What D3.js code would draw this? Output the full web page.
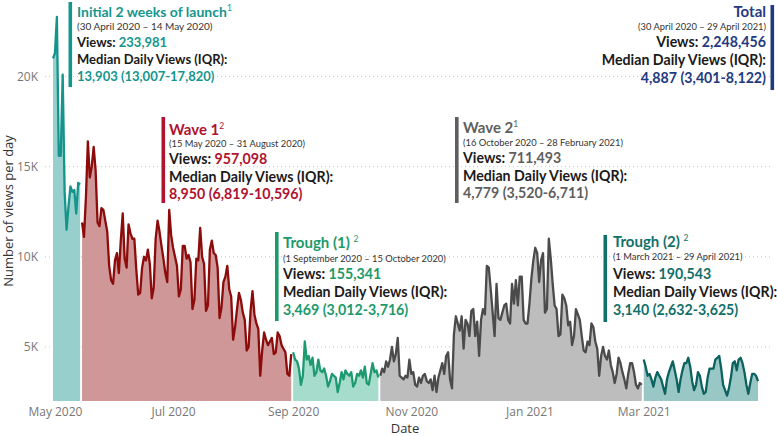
<!DOCTYPE html>
<html>
<head>
<meta charset="utf-8">
<script src="https://cdn.jsdelivr.net/npm/d3@7"></script>
<style>
  body { margin: 0; background: #fff; }
  svg text { font-family: "Open Sans", sans-serif; }
  .note text { font-family: Lato, sans-serif; }
</style>
</head>
<body>
<svg id="chart" width="777" height="436"></svg>
<script>
// daily views, one value per day starting at each period's first date
var launchStart = "2020-04-30";
var launchViews = [21000, 21300, 23300, 15600, 15600, 20100, 13600, 11500, 12800, 13900, 13600, 13700, 12400, 14100, 14000];

var wave1Start = "2020-05-15";
var wave1Views = [11900, 11100, 13300, 16400, 14400, 15000, 16100, 14800,
  11900, 11700, 12700, 12600, 12000, 11400, 9500,
  8700, 8500, 9800, 10200, 9100, 10900, 12400,
  9900, 9400, 11800, 11300, 11000, 11000, 9300,
  7900, 8000, 9400, 10000, 9800, 10400, 9600,
  7700, 8300, 11000, 12000, 11400, 10600, 9900,
  9100, 8600, 12600, 11200, 10500, 10000, 9500,
  7800, 8200, 10600, 10600, 9900, 10100, 9700,
  7100, 7600, 9900, 9800, 11600, 10000, 9600,
  7000, 7300, 10400, 10900, 10200, 10100, 9400,
  6600, 7200, 8600, 8900, 9500, 8200, 7800,
  5400, 6100, 7100, 8000, 7600, 6900, 6500,
  4800, 5000, 7000, 8100, 6800, 6300, 6000,
  3400, 4800, 5800, 5400, 5100, 5300, 5500,
  4600, 4700, 5800, 5600, 5100, 4900, 4700,
  3500, 3400, 4600];

var trough1Start = "2020-09-01";
var trough1Views = [4700, 4300, 4200, 3800, 2900, 3400, 5300, 4300, 4500, 4000,
  4400, 3400, 3600, 4300, 3700, 3600, 3800, 3400, 2800, 3100,
  3500, 3400, 3300, 2500, 3000, 3600, 3200, 3700, 3500, 3400,
  3600, 2800, 3000, 3500, 3400, 3700, 3300, 3900, 3000, 2900,
  3500, 4100, 3600, 3700, 3300];

var wave2Start = "2020-10-16";
var wave2Views = [3400, 3800, 3600, 4200, 3900, 4300, 5000, 4200, 4600, 5500,
  3400, 3300, 3200, 3400, 3300, 4300, 3500, 3600, 2900, 2800,
  3300, 3000, 3400, 3500, 3100, 3000, 3200, 2600, 3400, 2500,
  3300, 3700, 4100, 3500, 4500, 4700, 3200, 2700, 5700, 6700,
  6300, 5900, 6700, 4900, 6500, 6300, 5600, 7000, 7100, 5600,
  6400, 4500, 6500, 7100, 6800, 9500, 9400, 8200, 6900, 5600,
  8500, 6600, 6500, 6900, 7300, 7400, 6500, 6300, 8500, 7400,
  8700, 7300, 8900, 8900, 6500, 6300, 6300, 7400, 8800, 9800,
  10500, 10200, 8600, 9800, 10200, 6900, 7100, 11000, 9900, 8500,
  7300, 7100, 5600, 5700, 7900, 7700, 7300, 6200, 6400, 5100,
  5600, 7100, 6800, 6500, 5600, 4800, 4700, 5300, 5100, 6300,
  6100, 5300, 4900, 3400, 4500, 5000, 4500, 4300, 4800, 4000,
  3600, 3000, 3500, 4400, 4100, 3600, 3200, 2700, 3500, 4100,
  4100, 3600, 2900, 2700, 3000, 2900];

var trough2Start = "2021-03-01";
var trough2Views = [4300, 3900, 3400, 3500, 3200, 2800, 3300, 3600, 3400, 3200,
  2800, 2400, 3200, 3600, 3900, 4200, 3700, 3200, 2500, 3200,
  3700, 4100, 4100, 4400, 3900, 3100, 2600, 2900, 3600, 3400,
  2800, 2400, 2500, 3300, 3800, 3800, 3800, 4300, 4400, 4500,
  3800, 2900, 2600, 2300, 2700, 3300, 4100, 4200, 3700, 4300,
  4400, 4100, 3600, 2900, 2400, 3000, 3500, 3500, 3400, 3100];

var yTicks = [5000, 10000, 15000, 20000];

// annotation texts
var noteTitles = ["Initial 2 weeks of launch", "Wave 1", "Trough (1) ", "Wave 2", "Trough (2) ", "Total"];
var noteSups = ["1", "2", "2", "1", "2", ""];
var noteDates = ["(30 April 2020 \u2013 14 May 2020)", "(15 May 2020 \u2013 31 August 2020)",
  "(1 September 2020 \u2013 15 October 2020)", "(16 October 2020 \u2013 28 February 2021)",
  "(1 March 2021 \u2013 29 April 2021)", "(30 April 2020 \u2013 29 April 2021)"];
var noteViews = ["233,981", "957,098", "155,341", "711,493", "190,543", "2,248,456"];
var noteMedians = ["13,903 (13,007-17,820)", "8,950 (6,819-10,596)", "3,469 (3,012-3,716)",
  "4,779 (3,520-6,711)", "3,140 (2,632-3,625)", "4,887 (3,401-8,122)"];

var parseDay = d3.timeParse("%Y-%m-%d");

function toPoints(start, vals) {
  var t0 = parseDay(start);
  return vals.map(function (v, i) { return { date: d3.timeDay.offset(t0, i), views: v }; });
}

var segments = [
  { data: toPoints(launchStart, launchViews), line: "#14948b", fill: "#97cfcd" },
  { data: toPoints(wave1Start, wave1Views), line: "#8c0b0b", fill: "#cf9797" },
  { data: toPoints(trough1Start, trough1Views), line: "#1d9a6f", fill: "#a6dccb" },
  { data: toPoints(wave2Start, wave2Views), line: "#4b4b4b", fill: "#bdbdbd" },
  { data: toPoints(trough2Start, trough2Views), line: "#0c625e", fill: "#99c7c5" }
];

var svg = d3.select("#chart");

var x = d3.scaleTime()
  .domain([parseDay("2020-04-30"), parseDay("2021-04-29")])
  .range([53, 758]);
var y = d3.scaleLinear().domain([2000, 20000]).range([401, 76.5]);

// gridlines
svg.append("g").selectAll("line")
  .data(yTicks)
  .enter().append("line")
  .attr("x1", 45).attr("x2", 770)
  .attr("y1", function (d) { return y(d); })
  .attr("y2", function (d) { return y(d); })
  .attr("stroke", "#c8c8c8")
  .attr("stroke-dasharray", "1,3");

// areas + lines
var area = d3.area()
  .x(function (d) { return x(d.date); })
  .y0(y(2000))
  .y1(function (d) { return y(d.views); });
var line = d3.line()
  .x(function (d) { return x(d.date); })
  .y(function (d) { return y(d.views); });

segments.forEach(function (s) {
  svg.append("path").datum(s.data).attr("d", area).attr("fill", s.fill);
  svg.append("path").datum(s.data).attr("d", line)
    .attr("fill", "none").attr("stroke", s.line)
    .attr("stroke-width", 2.3).attr("stroke-linejoin", "round");
});

// axes
var xAxis = svg.append("g")
  .attr("transform", "translate(0,401)")
  .call(d3.axisBottom(x).ticks(d3.timeMonth.every(2)).tickFormat(d3.timeFormat("%b %Y")).tickSize(0).tickPadding(6));
var yAxis = svg.append("g")
  .attr("transform", "translate(45,0)")
  .call(d3.axisLeft(y).tickValues(yTicks).tickFormat(function (d) { return d / 1000 + "K"; }).tickSize(0).tickPadding(7));
[xAxis, yAxis].forEach(function (a) {
  a.select(".domain").remove();
  a.selectAll("text").attr("fill", "#777").attr("font-size", 12).attr("font-family", "Open Sans, sans-serif");
});

svg.append("text")
  .attr("transform", "translate(13,211) rotate(-90)")
  .attr("text-anchor", "middle")
  .attr("font-size", 13).attr("fill", "#333")
  .text("Number of views per day");
svg.append("text")
  .attr("x", 405).attr("y", 433)
  .attr("text-anchor", "middle")
  .attr("font-size", 13).attr("fill", "#333")
  .text("Date");

// annotation boxes
var noteColors = ["#15968d", "#b0122f", "#1c9a6b", "#5f5f5f", "#117069", "#1f3a80"];
var noteLayout = [
  { x: 77, bar: 68.5, y0: 2, y1: 87, ys: [17, 30, 47, 64, 81], ts: 14, bs: 13, ds: 10 },
  { x: 169, bar: 161.5, y0: 117, y1: 203, ys: [135, 147, 164, 181.5, 199], ts: 15, bs: 14.2, ds: 9.35 },
  { x: 283, bar: 275, y0: 232, y1: 321, ys: [248, 261.5, 278.5, 296.5, 314.5], ts: 15, bs: 14.2, ds: 9.35 },
  { x: 463, bar: 455, y0: 117, y1: 203, ys: [133, 146, 162.5, 180.5, 198], ts: 15, bs: 14.2, ds: 9.35 },
  { x: 613, bar: 603.5, y0: 235, y1: 322, ys: [247, 260, 278.5, 296.5, 314.5], ts: 15, bs: 14.2, ds: 9.35 },
  { x: 766, bar: 770.5, y0: 5, y1: 90, ys: [17, 30, 47, 65, 83], ts: 15, bs: 14.2, ds: 9.35, end: true }
];

noteTitles.forEach(function (title, i) {
  var L = noteLayout[i], c = noteColors[i];
  var g = svg.append("g").attr("class", "note");
  var anchor = L.end ? "end" : "start";
  g.append("rect").attr("x", L.bar).attr("y", L.y0)
    .attr("width", 3.6).attr("height", L.y1 - L.y0).attr("fill", c);

  var t = g.append("text").attr("x", L.x).attr("y", L.ys[0]).attr("text-anchor", anchor)
    .attr("font-size", L.ts).attr("font-weight", 700).attr("fill", c);
  t.append("tspan").text(title);
  if (noteSups[i]) t.append("tspan").attr("font-size", 8.5).attr("font-weight", 400).attr("dy", -6).text(noteSups[i]);

  g.append("text").attr("x", L.x).attr("y", L.ys[1]).attr("text-anchor", anchor)
    .attr("font-size", L.ds).attr("fill", "#333").text(noteDates[i]);

  var v = g.append("text").attr("x", L.x).attr("y", L.ys[2]).attr("text-anchor", anchor)
    .attr("font-size", L.bs).attr("font-weight", 700).attr("fill", "#1a1a1a");
  v.append("tspan").text("Views: ");
  v.append("tspan").attr("fill", c).text(noteViews[i]);

  g.append("text").attr("x", L.x).attr("y", L.ys[3]).attr("text-anchor", anchor)
    .attr("font-size", L.bs).attr("font-weight", 700).attr("fill", "#1a1a1a")
    .text("Median Daily Views (IQR):");
  g.append("text").attr("x", L.x).attr("y", L.ys[4]).attr("text-anchor", anchor)
    .attr("font-size", L.bs).attr("font-weight", 700).attr("fill", c)
    .text(noteMedians[i]);
});
</script>
</body>
</html>
